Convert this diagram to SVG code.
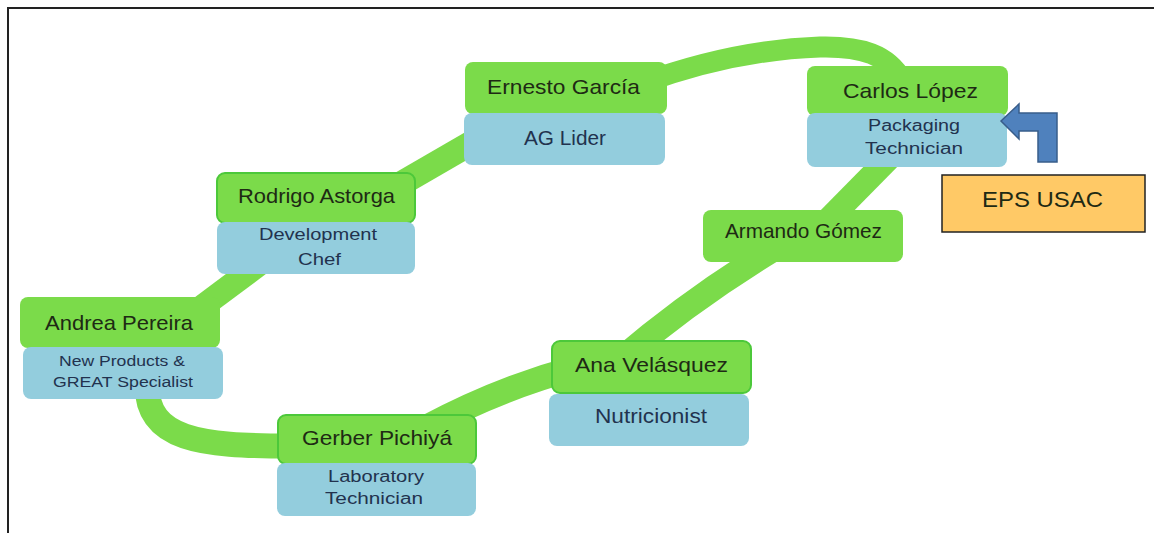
<svg xmlns="http://www.w3.org/2000/svg" width="1154" height="533" viewBox="0 0 1154 533">
<style>
.g{fill:#7BDB4A}
.gb{stroke:#4CC83A;stroke-width:2}
.b{fill:#93CDDD}
.lnk{fill:none;stroke:#7BDB4A;stroke-linecap:butt}
.nm{font-family:"Liberation Sans",Arial,sans-serif;font-size:21px;fill:#1E2A14;text-anchor:start}
.rl{font-family:"Liberation Sans",Arial,sans-serif;font-size:16px;fill:#22324E;text-anchor:start}
.rs{font-family:"Liberation Sans",Arial,sans-serif;font-size:14px;fill:#22324E;text-anchor:start}
.rb{font-family:"Liberation Sans",Arial,sans-serif;font-size:20px;fill:#22324E;text-anchor:start}
.frame{stroke:#222;stroke-width:2;fill:none}
</style>
<g id="frame">
<path class="frame" d="M8,533 L8,8 L1154,8"/>
</g>
<g id="connectors">
<path class="lnk" stroke-width="24" d="M195,312 L262,262"/>
<path class="lnk" stroke-width="25" d="M385,193 L480,138"/>
<path class="lnk" stroke-width="21" d="M640,84 C700,62 760,49 820,47 C862,46 888,55 902,80"/>
<path class="lnk" stroke-width="24" d="M895,152 L826,222"/>
<path class="lnk" stroke-width="25" d="M772,250 Q690,300 620,360"/>
<path class="lnk" stroke-width="25" d="M575,368 Q500,388 425,428"/>
<path class="lnk" stroke-width="25" d="M290,446 C200,446 147,440 147,385"/>
</g>
<g id="ernesto">
<rect class="g" x="465" y="62" width="202" height="52" rx="8"/>
<rect class="b" x="464" y="113" width="201" height="52" rx="8"/>
<text class="nm" x="487" y="94" textLength="153" lengthAdjust="spacingAndGlyphs">Ernesto  García</text>
<text class="rb" x="524" y="145" textLength="82" lengthAdjust="spacingAndGlyphs">AG Lider</text>
</g>
<g id="carlos">
<rect class="g" x="807" y="66" width="201" height="50" rx="8"/>
<rect class="b" x="807" y="113" width="200" height="54" rx="8"/>
<text class="nm" x="843" y="98" textLength="135" lengthAdjust="spacingAndGlyphs">Carlos López</text>
<text class="rl" x="868" y="131" textLength="92" lengthAdjust="spacingAndGlyphs">Packaging</text>
<text class="rl" x="865" y="154" textLength="98" lengthAdjust="spacingAndGlyphs">Technician</text>
</g>
<g id="rodrigo">
<rect class="g gb" x="217" y="173" width="198" height="50" rx="8"/>
<rect class="b" x="217" y="222" width="198" height="52" rx="8"/>
<text class="nm" x="238" y="203" textLength="157" lengthAdjust="spacingAndGlyphs">Rodrigo Astorga</text>
<text class="rl" x="259" y="240" textLength="118" lengthAdjust="spacingAndGlyphs">Development</text>
<text class="rl" x="298" y="265" textLength="43" lengthAdjust="spacingAndGlyphs">Chef</text>
</g>
<g id="andrea">
<rect class="g" x="20" y="297" width="200" height="51" rx="8"/>
<rect class="b" x="23" y="347" width="200" height="52" rx="8"/>
<text class="nm" x="45" y="330" textLength="148" lengthAdjust="spacingAndGlyphs">Andrea Pereira</text>
<text class="rs" x="59" y="366" textLength="126" lengthAdjust="spacingAndGlyphs">New Products &amp;</text>
<text class="rs" x="53" y="387" textLength="140" lengthAdjust="spacingAndGlyphs">GREAT Specialist</text>
</g>
<g id="gerber">
<rect class="g gb" x="278" y="415" width="198" height="49" rx="8"/>
<rect class="b" x="277" y="463" width="199" height="53" rx="8"/>
<text class="nm" x="302" y="445" textLength="150" lengthAdjust="spacingAndGlyphs">Gerber Pichiyá</text>
<text class="rl" x="328" y="482" textLength="96" lengthAdjust="spacingAndGlyphs">Laboratory</text>
<text class="rl" x="325" y="504" textLength="98" lengthAdjust="spacingAndGlyphs">Technician</text>
</g>
<g id="ana">
<rect class="g gb" x="552" y="341" width="199" height="52" rx="8"/>
<rect class="b" x="549" y="394" width="200" height="52" rx="8"/>
<text class="nm" x="575" y="372" textLength="153" lengthAdjust="spacingAndGlyphs">Ana Velásquez</text>
<text class="rb" x="595" y="423" textLength="112" lengthAdjust="spacingAndGlyphs">Nutricionist</text>
</g>
<g id="armando">
<rect class="g" x="703" y="210" width="200" height="52" rx="8"/>
<text class="nm" x="725" y="238" textLength="157" lengthAdjust="spacingAndGlyphs">Armando Gómez</text>
</g>
<g id="eps">
<rect x="942" y="175" width="203" height="57" fill="#FFC966" stroke="#222" stroke-width="1.5"/>
<text class="nm" x="982" y="207" fill="#2A1A10" style="font-size:22px" textLength="121" lengthAdjust="spacingAndGlyphs">EPS USAC</text>
</g>
<g id="arrow">
<polygon points="1001,121 1019,104 1019,113 1057,113 1057,162 1038,162 1038,131 1019,131 1019,139" fill="#4F81BD" stroke="#385D8A" stroke-width="1.5"/>
</g>
</svg>
